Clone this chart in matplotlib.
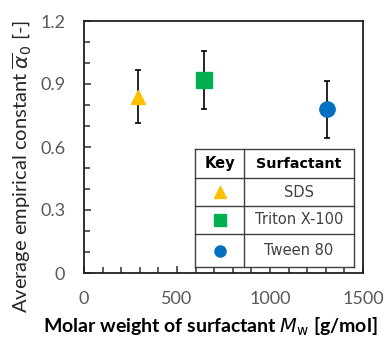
import matplotlib.pyplot as plt
from matplotlib.ticker import MultipleLocator
from matplotlib.patches import Rectangle

# dati
surfactants = ["SDS", "Triton X-100", "Tween 80"]
molar_weight = [288, 645, 1306]
alpha_mean = [0.84, 0.92, 0.78]
alpha_err = [0.125, 0.138, 0.135]
markers = ["^", "s", "o"]
colors = ["#FFC000", "#00B050", "#0070C0"]

plt.rcParams['font.family'] = ['Lato', 'DejaVu Sans']

fig = plt.figure(figsize=(3.85, 3.4), dpi=100)
ax = fig.add_axes([84/385, 1 - 273/340, 279/385, 252/340])

for x, y, e, m, c in zip(molar_weight, alpha_mean, alpha_err, markers, colors):
    ax.errorbar(x, y, yerr=e, fmt=m, color=c, ms=11 if m != "^" else 10,
                ecolor="black", elinewidth=1.2, capsize=2, capthick=1.2, zorder=3)

ax.set_xlim(0, 1500)
ax.set_ylim(0, 1.2)
ax.xaxis.set_major_locator(MultipleLocator(500))
ax.xaxis.set_minor_locator(MultipleLocator(100))
ax.yaxis.set_major_locator(MultipleLocator(0.3))
ax.yaxis.set_minor_locator(MultipleLocator(0.1))
ax.tick_params(which="both", direction="in", top=False, right=False, width=1.2, colors="#404040")
ax.tick_params(which="major", length=5)
ax.tick_params(which="minor", length=4)
ax.tick_params(axis="x", pad=13)
ax.tick_params(axis="y", pad=13.5)
ax.set_yticks([0, 0.3, 0.6, 0.9, 1.2], ["0", "0.3", "0.6", "0.9", "1.2"])
ax.set_xticks([0, 500, 1000, 1500], ["0", "500", "1000", "1500"])
for lab in ax.get_xticklabels() + ax.get_yticklabels():
    lab.set_fontsize(13)
    lab.set_color("#595959")
for s in ax.spines.values():
    s.set_linewidth(1.3)
    s.set_color("#202020")

ax.set_xlabel(r"Molar weight of surfactant $\mathit{M}_\mathrm{w}$ [g/mol]",
              fontsize=14, fontweight="bold")
ax.xaxis.set_label_coords((210-84)/279, -(316-273)/252)
ax.set_ylabel(r"Average empirical constant $\overline{\alpha}_0$ [-]",
              fontsize=14.5, color="#262626")
ax.yaxis.set_label_coords(-(84-33)/279, (273-166)/252)

# tabella legenda (coordinate assi)
x0, x1, xm = (195-84)/279, (354-84)/279, (244-84)/279
rows_y = [(273-v)/252 for v in [149, 178, 206, 234, 267]]
lc = "#404040"
ax.add_patch(Rectangle((x0, rows_y[-1]), x1-x0, rows_y[0]-rows_y[-1],
                       transform=ax.transAxes, facecolor="white", edgecolor="none", zorder=3.5))
for yv in rows_y:
    ax.plot([x0, x1], [yv, yv], transform=ax.transAxes, color=lc, lw=1, zorder=4)
for xv in [x0, xm, x1]:
    ax.plot([xv, xv], [rows_y[0], rows_y[-1]], transform=ax.transAxes, color=lc, lw=1, zorder=4)
ax.text((x0+xm)/2, (rows_y[0]+rows_y[1])/2, "Key", transform=ax.transAxes,
        ha="center", va="center", fontsize=10.5, fontweight="bold", family="DejaVu Sans", zorder=5)
ax.text((xm+x1)/2, (rows_y[0]+rows_y[1])/2, "Surfactant", transform=ax.transAxes,
        ha="center", va="center", fontsize=10.3, fontweight="bold", family="DejaVu Sans", zorder=5)
for i, (name, m, c) in enumerate(zip(surfactants, markers, colors)):
    yc = (rows_y[i+1]+rows_y[i+2])/2
    ax.plot((x0+xm)/2, yc, marker=m, color=c, ms=8, transform=ax.transAxes,
            zorder=5, linestyle="none")
    ax.text((xm+x1)/2, yc, name, transform=ax.transAxes, ha="center", va="center",
            fontsize=10.5, color="#404040", family="DejaVu Sans", zorder=5)

fig.savefig("out.png", dpi=100)
